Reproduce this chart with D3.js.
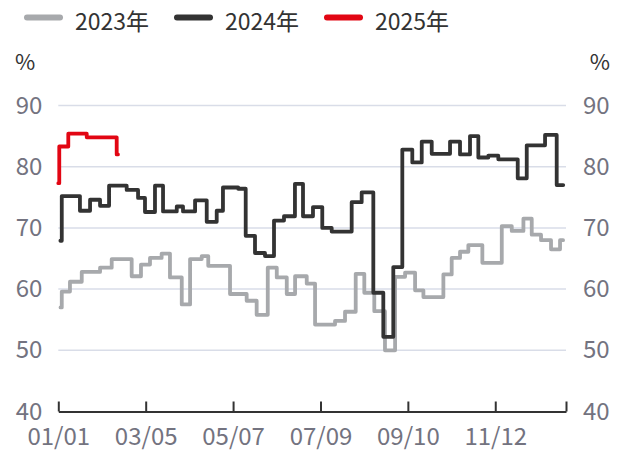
<!DOCTYPE html>
<html>
<head>
<meta charset="utf-8">
<script src="https://cdn.jsdelivr.net/npm/d3@7"></script>
<style>
  body { margin: 0; background: #fff; }
  svg text { font-family: "Noto Sans CJK SC", "Noto Sans", sans-serif; }
</style>
</head>
<body>
<div id="chart"></div>
<script>
// legend / series names
var seriesNames = ["2023年", "2024年", "2025年"];
var seriesColors = ["#a7a9ac", "#333333", "#e20613"];

// x ticks (day offset from 01/01) and their labels
var tickDays = [0, 63, 126, 189, 252, 315, 366];
var tickLabels = ["01/01", "03/05", "05/07", "07/09", "09/10", "11/12", ""];
var yTicks = [40, 50, 60, 70, 80, 90];

// step data: day offset where a new weekly value starts, and the value (%)
var days2023 = [1.6, 2.5, 8.4, 16.9, 30.1, 38.5, 52.9, 59.6, 66.1, 74.5, 80.5, 89, 95, 103.4, 108.1, 123.8,
  135.8, 143, 151, 157.5, 164.7, 170.7, 179.1, 185.1, 199.5, 206.7, 214.4, 220.6, 227.8, 235.5, 242.8,
  250, 257.2, 263.2, 277.6, 283.6, 289.6, 295.6, 305.7, 319.7, 326.9, 335.3, 341.3, 348, 355.2, 361.7, 363.9];
var vals2023 = [57.0, 59.6, 61.2, 62.8, 63.5, 64.9, 62.1, 64.0, 65.1, 65.8, 61.9, 57.5, 64.9, 65.4, 63.8, 59.2,
  58.1, 55.8, 63.5, 61.9, 59.2, 62.1, 60.9, 54.2, 54.8, 56.3, 62.5, 59.4, 56.4, 50.0, 62.0,
  62.7, 59.8, 58.7, 62.4, 65.1, 66.1, 67.2, 64.3, 70.3, 69.5, 71.5, 68.9, 68.0, 66.5, 68.0, 68.0];

var days2024 = [1.5, 2.5, 15.6, 22.9, 30.1, 36.6, 49.3, 57.5, 62.5, 69.7, 75.5, 85.4, 89.9, 98.6, 107, 114.2,
  118.7, 129.7, 135.1, 141.8, 149, 155.5, 162.7, 170.6, 176.4, 183.6, 190.3, 197.1, 211.5, 218.7, 227.1,
  234.3, 241.5, 248, 255.2, 262, 269.2, 282.4, 289.6, 296.8, 302.8, 310, 317.2, 331.2, 337.7, 350.9, 359.3, 364];
var vals2024 = [67.9, 75.2, 72.8, 74.6, 73.6, 76.9, 76.2, 74.9, 72.6, 76.9, 72.7, 73.5, 72.7, 74.5, 71.0, 72.8,
  76.6, 76.4, 68.7, 65.9, 65.4, 71.2, 71.9, 77.2, 71.9, 73.4, 70.0, 69.4, 74.2, 75.8, 59.4,
  52.2, 63.6, 82.8, 80.7, 84.1, 82.1, 84.1, 82.0, 85.0, 81.5, 81.8, 81.2, 78.1, 83.5, 85.2, 77.0, 77.0];

var days2025 = [0, 0.7, 7.2, 20.5, 42.1, 43];
var vals2025 = [77.3, 83.3, 85.4, 84.8, 82.0, 82.0];

var width = 622, height = 452;
var plot = {left: 58.3, right: 566, top: 105.5, bottom: 411.5};

var svg = d3.select("#chart").append("svg")
  .attr("width", width)
  .attr("height", height);

var x = d3.scaleLinear().domain([0, 366]).range([plot.left, plot.right]);
var y = d3.scaleLinear().domain([40, 90]).range([plot.bottom, plot.top]);

// grid lines
svg.append("g")
  .selectAll("line")
  .data(yTicks.filter(function(d){ return d > 40; }))
  .enter().append("line")
    .attr("x1", plot.left)
    .attr("x2", plot.right)
    .attr("y1", function(d){ return y(d); })
    .attr("y2", function(d){ return y(d); })
    .attr("stroke", "#d9dde8")
    .attr("stroke-width", 1.5);

// y labels, both sides
var yLeft = d3.axisLeft(y).tickValues(yTicks).tickSize(0).tickPadding(16);
var yRight = d3.axisRight(y).tickValues(yTicks).tickSize(0).tickPadding(17);

svg.append("g")
  .attr("transform", "translate(" + plot.left + ",0)")
  .call(yLeft);
svg.append("g")
  .attr("transform", "translate(" + plot.right + ",0)")
  .call(yRight);

svg.selectAll(".domain").remove();

// x axis
var xAxis = d3.axisBottom(x)
  .tickValues(tickDays)
  .tickSizeInner(-10)
  .tickSizeOuter(0)
  .tickPadding(16)
  .tickFormat(function(d, i){ return tickLabels[i]; });

var xg = svg.append("g")
  .attr("transform", "translate(0," + plot.bottom + ")")
  .call(xAxis);
xg.select(".domain").attr("stroke", "#333").attr("stroke-width", 2);
xg.selectAll(".tick line").attr("stroke", "#333").attr("stroke-width", 2);

svg.selectAll(".tick text")
  .attr("fill", "#737380")
  .style("font-size", "24px");

// % unit labels
svg.append("text").attr("x", 15).attr("y", 70).text("%")
  .attr("fill", "#333").style("font-size", "22px");
svg.append("text").attr("x", 610).attr("y", 70).text("%")
  .attr("text-anchor", "end")
  .attr("fill", "#333").style("font-size", "22px");

// lines
var line = d3.line()
  .x(function(d){ return x(d[0]); })
  .y(function(d){ return y(d[1]); })
  .curve(d3.curveStepAfter);

var series = [
  d3.zip(days2023, vals2023),
  d3.zip(days2024, vals2024),
  d3.zip(days2025, vals2025)
];

series.forEach(function(s, i){
  svg.append("path")
    .datum(s)
    .attr("d", line)
    .attr("fill", "none")
    .attr("stroke", seriesColors[i])
    .attr("stroke-width", 3.8)
    .attr("stroke-linejoin", "round")
    .attr("stroke-linecap", "round");
});

// legend
var legend = svg.append("g").selectAll("g")
  .data(seriesNames)
  .enter().append("g")
    .attr("transform", function(d, i){ return "translate(" + (i * 150) + ",0)"; });

legend.append("line")
  .attr("x1", 27).attr("x2", 60)
  .attr("y1", 17.5).attr("y2", 17.5)
  .attr("stroke", function(d, i){ return seriesColors[i]; })
  .attr("stroke-width", 6)
  .attr("stroke-linecap", "round");

legend.append("text")
  .attr("x", 75)
  .attr("y", 29.5)
  .attr("fill", "#333")
  .style("font-size", "23px")
  .text(function(d){ return d; });
</script>
</body>
</html>
